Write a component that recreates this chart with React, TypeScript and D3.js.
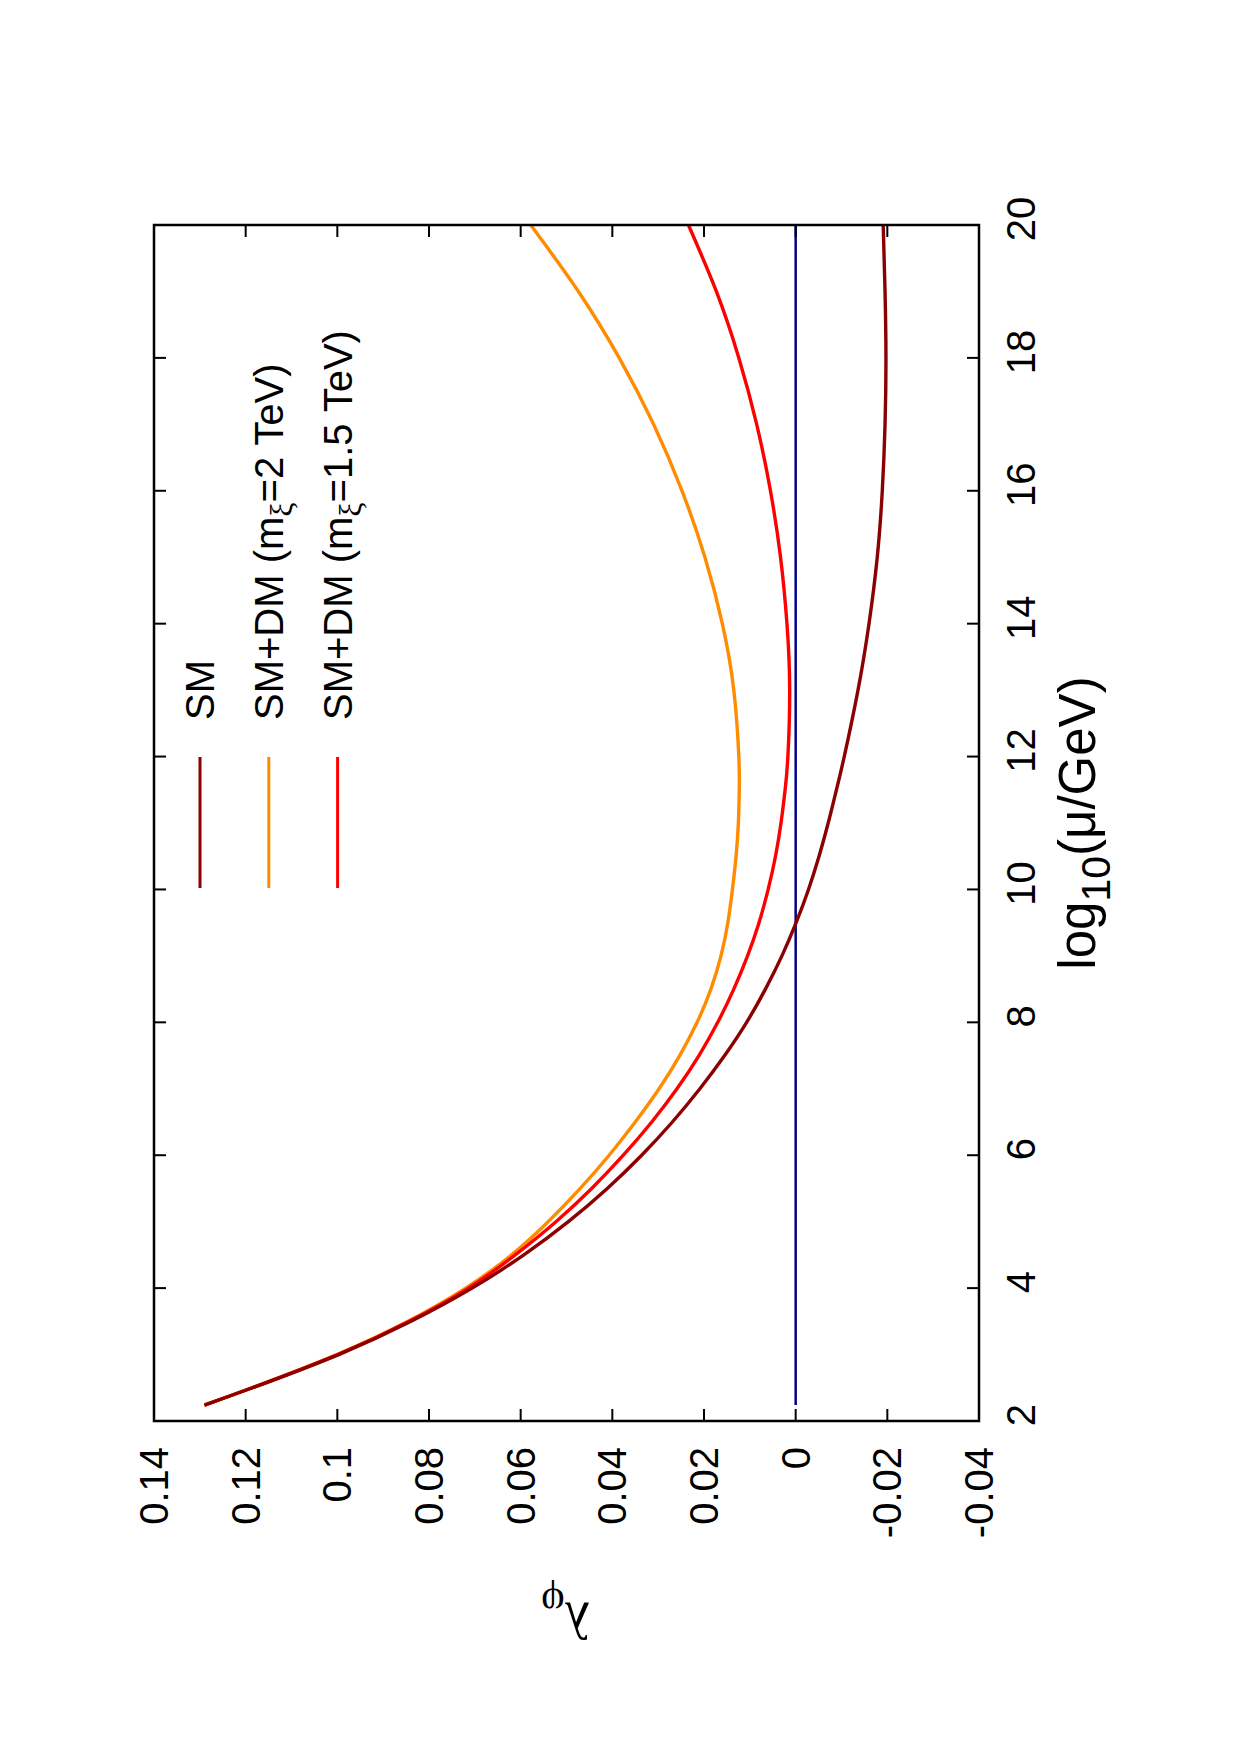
import React from 'react';
import * as d3 from 'd3';

// Running of the Higgs quartic coupling λφ versus log10(μ/GeV)
const logMu = [
  2.24, 2.5, 3, 3.5, 4, 4.5, 5, 5.5, 6, 6.5, 7, 7.5, 8, 8.5, 9, 9.5, 10, 10.5, 11, 11.5, 12, 13, 14, 15, 16,
  17, 18, 19, 20,
];

const lambdaSM = [
  0.129, 0.1185, 0.0997, 0.0839, 0.0706, 0.0593, 0.0496, 0.0411, 0.0336, 0.0269, 0.0209, 0.0155, 0.0107,
  0.0066, 0.003, -0.0001, -0.0028, -0.0051, -0.0071, -0.0089, -0.0106, -0.0136, -0.016, -0.0178, -0.0189,
  -0.0195, -0.0197, -0.0195, -0.0191,
];

const lambdaDM2TeV = [
  0.129, 0.1186, 0.1001, 0.0846, 0.072, 0.062, 0.054, 0.047, 0.0407, 0.035, 0.0298, 0.0253, 0.0215,
  0.0185, 0.0163, 0.0148, 0.0138, 0.013, 0.0125, 0.0123, 0.0124, 0.0135, 0.016, 0.0198, 0.0248, 0.031,
  0.0385, 0.0474, 0.0578,
];

const lambdaDM15TeV = [
  0.129, 0.1186, 0.0999, 0.0843, 0.0714, 0.0612, 0.0523, 0.0445, 0.0376, 0.0314, 0.0259, 0.0211, 0.017,
  0.0135, 0.0105, 0.008, 0.006, 0.0044, 0.0032, 0.0023, 0.0017, 0.0013, 0.0019, 0.0033, 0.0055, 0.0085,
  0.0124, 0.0173, 0.0234,
];

const lambdaZero = 0;

const lambdaTicks = [0.14, 0.12, 0.1, 0.08, 0.06, 0.04, 0.02, 0, -0.02, -0.04];
const lambdaTickLabels = ['0.14', '0.12', '0.1', '0.08', '0.06', '0.04', '0.02', '0', '-0.02', '-0.04'];
const logMuTicks = [2, 4, 6, 8, 10, 12, 14, 16, 18, 20];
const logMuTickLabels = ['2', '4', '6', '8', '10', '12', '14', '16', '18', '20'];

const legendLabels = ['SM', 'SM+DM (m', 'SM+DM (m'];
const legendSubs = ['', 'ξ', 'ξ'];
const legendTails = ['', '=2 TeV)', '=1.5 TeV)'];
const seriesColors = ['#8b0000', '#ff8c00', '#ff0000'];
const zeroColor = '#00008b';

const SANS = '"Liberation Sans", Arial, Helvetica, sans-serif';
const SERIF = '"Liberation Serif", "Times New Roman", serif';

export default function App() {
  const W = 1240;
  const H = 1755;
  const left = 154;
  const right = 979;
  const top = 225;
  const bottom = 1421;

  // The page is turned: λ runs horizontally, log10 μ runs upward.
  const x = d3.scaleLinear().domain([0.14, -0.04]).range([left, right]);
  const y = d3.scaleLinear().domain([2, 20]).range([bottom, top]);

  const line = d3
    .line<[number, number]>()
    .x((d) => x(d[1]))
    .y((d) => y(d[0]))
    .curve(d3.curveNatural);

  const pts = (vals: number[]) => logMu.map((t, i) => [t, vals[i]] as [number, number]);
  const series = [lambdaSM, lambdaDM2TeV, lambdaDM15TeV];
  const zeroPts: [number, number][] = [
    [logMu[0], lambdaZero],
    [logMu[logMu.length - 1], lambdaZero],
  ];

  const tickLen = 12;
  const legendX0 = 200;
  const legendDx = 68.8;
  const sampleTop = 757;
  const sampleBottom = 888;
  const legendTextStart = 720;
  const curveWidth = 3.4;

  return (
    <svg
      width={W}
      height={H}
      viewBox={`0 0 ${W} ${H}`}
      style={{ position: 'absolute', left: 0, top: 0, background: '#fff' }}
    >
      <rect x={0} y={0} width={W} height={H} fill="#fff" />

      {/* curves */}
      <path d={line(pts(series[1])) || ''} fill="none" stroke={seriesColors[1]} strokeWidth={curveWidth} />
      <path d={line(pts(series[2])) || ''} fill="none" stroke={seriesColors[2]} strokeWidth={curveWidth} />
      <path d={line(zeroPts) || ''} fill="none" stroke={zeroColor} strokeWidth={2.5} />
      <path d={line(pts(series[0])) || ''} fill="none" stroke={seriesColors[0]} strokeWidth={curveWidth} />

      {/* frame */}
      <rect
        x={left}
        y={top}
        width={right - left}
        height={bottom - top}
        fill="none"
        stroke="#000"
        strokeWidth={2.5}
      />

      {/* λ ticks on both horizontal edges */}
      {lambdaTicks.map((v, i) => (
        <g key={`lt${i}`}>
          <line x1={x(v)} x2={x(v)} y1={bottom} y2={bottom - tickLen} stroke="#000" strokeWidth={2} />
          <line x1={x(v)} x2={x(v)} y1={top} y2={top + tickLen} stroke="#000" strokeWidth={2} />
          <text
            transform={`translate(${x(v)},1447) rotate(-90)`}
            textAnchor="end"
            dy="0.35em"
            fontFamily={SANS}
            fontSize={40}
            fill="#000"
          >
            {lambdaTickLabels[i]}
          </text>
        </g>
      ))}

      {/* log10 μ ticks on both vertical edges */}
      {logMuTicks.map((v, i) => (
        <g key={`mt${i}`}>
          <line x1={left} x2={left + tickLen} y1={y(v)} y2={y(v)} stroke="#000" strokeWidth={2} />
          <line x1={right} x2={right - tickLen} y1={y(v)} y2={y(v)} stroke="#000" strokeWidth={2} />
          <text
            transform={`translate(1035,${y(v) - 6}) rotate(-90)`}
            textAnchor="middle"
            fontFamily={SANS}
            fontSize={40}
            fill="#000"
          >
            {logMuTickLabels[i]}
          </text>
        </g>
      ))}

      {/* axis titles */}
      <text
        transform={`translate(1095,${(top + bottom) / 2}) rotate(-90)`}
        textAnchor="middle"
        fontFamily={SANS}
        fontSize={51}
        fill="#000"
      >
        log
        <tspan fontSize={41} dy={15}>
          10
        </tspan>
        <tspan dy={-15}>(μ/GeV)</tspan>
      </text>

      <text transform="translate(590,1603) rotate(180)" fontFamily={SERIF} fontSize={52} fill="#000">
        λ
        <tspan fontSize={41} dy={14}>
          φ
        </tspan>
      </text>

      {/* key */}
      {legendLabels.map((lab, i) => {
        const lx = legendX0 + i * legendDx;
        return (
          <g key={`lg${i}`}>
            <line x1={lx} x2={lx} y1={sampleTop} y2={sampleBottom} stroke={seriesColors[i]} strokeWidth={3} />
            <text
              transform={`translate(${lx},${legendTextStart}) rotate(-90)`}
              dy="0.35em"
              fontFamily={SANS}
              fontSize={40}
              fill="#000"
            >
              {lab}
              {legendSubs[i] ? (
                <tspan fontFamily={SERIF} fontSize={32} dy={9}>
                  {legendSubs[i]}
                </tspan>
              ) : null}
              {legendTails[i] ? <tspan dy={-9}>{legendTails[i]}</tspan> : null}
            </text>
          </g>
        );
      })}
    </svg>
  );
}
